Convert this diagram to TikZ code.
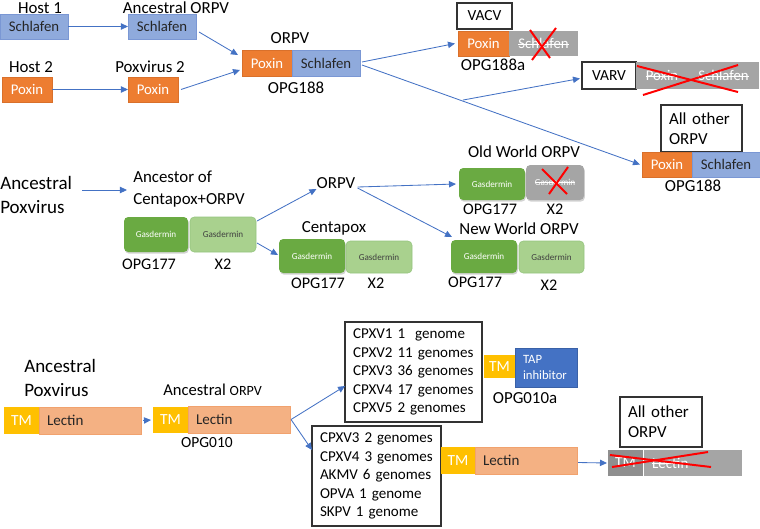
\documentclass[tikz,border=0pt]{standalone}
\usepackage{fontspec}
\setmainfont{Carlito}
\usepackage{tikz}
\usetikzlibrary{arrows.meta}
\usetikzlibrary{calc, shadows}
\definecolor{bleuS}{HTML}{8FAADC}
\definecolor{bleuB}{HTML}{7A97D4}
\definecolor{orangeP}{HTML}{ED7D31}
\definecolor{orangeB}{HTML}{D9702B}
\definecolor{grisB}{HTML}{A5A5A5}
\definecolor{grisF}{HTML}{8F8F8F}
\definecolor{vertF}{HTML}{6AAA42}
\definecolor{vertC}{HTML}{A9D18E}
\definecolor{vertCB}{HTML}{93C47D}
\definecolor{jauneTM}{HTML}{FFC000}
\definecolor{saumon}{HTML}{F4B183}
\definecolor{saumonB}{HTML}{F1A26E}
\definecolor{bleuTAP}{HTML}{4472C4}
\definecolor{bleuF}{HTML}{4472C4}
\newcommand{\barre}[1]{\setbox0\hbox{#1}\leavevmode\rlap{\rule[0.28em]{\wd0}{0.5pt}}\box0}

\tikzset{
  boite/.style={anchor=north west, inner sep=0pt, outer sep=0pt, font=\fontsize{10.5}{12}\selectfont},
  taille/.style 2 args={minimum width=#1*0.025cm, minimum height=#2*0.025cm},
  schl/.style={boite, fill=bleuS, draw=bleuB, text=black!85},
  pox/.style={boite, fill=orangeP, draw=orangeB, text=white},
  gris/.style={boite, fill=grisB, text=white},
  blanc/.style={boite, fill=white, draw=black!80, line width=0.8pt, font=\fontsize{11}{13}\selectfont},
  gfonce/.style={boite, rounded corners=3pt, fill=vertF, text=white, font=\fontsize{6.5}{8}\selectfont,
    drop shadow={shadow xshift=0.6pt, shadow yshift=-1.2pt, opacity=0.35}},
  gclair/.style={boite, rounded corners=3pt, fill=vertC, draw=vertCB, text=black!75, font=\fontsize{6.5}{8}\selectfont},
  ggris/.style={boite, rounded corners=3pt, fill=grisB, text=white, font=\fontsize{6.5}{8}\selectfont,
    drop shadow={shadow xshift=0.6pt, shadow yshift=-1.2pt, opacity=0.35}},
  tm/.style={boite, fill=jauneTM, text=white, font=\fontsize{11}{13}\selectfont},
  lect/.style={boite, fill=saumon, draw=saumonB, text=black!85, align=left, text width=2.15cm, inner xsep=0.2cm, font=\fontsize{10.7}{13}\selectfont},
  etiq/.style={inner sep=0pt, font=\fontsize{12}{14}\selectfont},
  autres/.style={blanc, align=left, inner xsep=0.2cm, font=\fontsize{12}{14.2}\selectfont},
  liste/.style={blanc, align=left, inner xsep=0.2cm, font=\fontsize{10.7}{13.1}\selectfont},
  fleche/.style={draw=bleuF, line width=0.6pt, -{Triangle[length=5pt,width=4.5pt]}},
  croix/.style={draw=red, line width=1.4pt},
}

\begin{document}
\begin{tikzpicture}[x=0.025cm, y=-0.025cm]
    \useasboundingbox (0,0) rectangle (760,528);

    % Hôtes et ancêtres
    \node[etiq] (lH1) at (40,8) {Host 1};
    \node[schl, taille={68}{25}] (h1S) at (0,14) {Schlafen};
    \node[etiq] (lAncO) at (176,8) {Ancestral ORPV};
    \node[schl, taille={68}{25}] (aS) at (128,14) {Schlafen};
    \node[etiq] (lH2) at (31,67) {Host 2};
    \node[pox, taille={50}{25}] (h2P) at (2,77) {Poxin};
    \node[etiq] (lPox2) at (150,67) {Poxvirus 2};
    \node[pox, taille={50}{25}] (pP) at (128,77) {Poxin};

    % ORPV fusion
    \node[etiq] (lOrpv) at (290,38) {ORPV};
    \node[pox, taille={50}{26}] (oP) at (242,50) {Poxin};
    \node[schl, taille={68}{26}] (oS) at (292,50) {Schlafen};
    \node[etiq] (lOpg) at (296,88) {OPG188};

    % VACV
    \node[blanc, taille={55}{26}] (vacv) at (457,3) {VACV};
    \node[pox, taille={51}{25}] (vP) at (458,31) {Poxin};
    \node[gris, taille={69}{25}] (vS) at (509,31) {\barre{Schlafen}};
    \node[etiq] (lOpgA) at (493,65) {OPG188a};
    \draw[croix] (530,30) -- (550,58);
    \draw[croix] (556,28) -- (532,60);

    % VARV
    \node[blanc, taille={54}{27}] (varv) at (582,62) {VARV};
    \node[gris, taille={52}{27}] (vrP) at (636,62) {\barre{Poxin}};
    \node[gris, taille={71}{27}] (vrS) at (688,62) {\barre{Schlafen}};
    \draw[croix] (637,66) -- (738,92);
    \draw[croix] (643,95) -- (738,65);

    % Tous les autres ORPV
    \node[autres, text width=1.625cm, minimum height=47*0.025cm] (ao) at (661,105) {All other\\ORPV};
    \node[pox, taille={50}{25}] (aoP) at (642,152) {Poxin};
    \node[schl, taille={68}{25}] (aoS) at (692,152) {Schlafen};
    \node[etiq] (lOpg2) at (693,186) {OPG188};

    % Flèches du haut
    \draw[fleche] (h1S) -- (aS);
    \draw[fleche] (h2P) -- (pP);
    \draw[fleche] ([shift={(3,5.5)}]aS.east) -- ([shift={(-4,-8)}]oP.west);
    \draw[fleche] ([shift={(3,0)}]pP.east) -- ([shift={(-2,7)}]oP.west);
    \draw[fleche] ([shift={(2,-1)}]oS.east) -- ([shift={(-3,0)}]vP.west);
    \draw[fleche] ([shift={(2,2)}]oS.east) -- ([shift={(-2,0)}]aoP.west);
    \coordinate (br) at ($(oS.east)!0.365!(aoP.west)$);
    \draw[fleche] (br) -- ([shift={(-2,3)}]varv.west);

    % Gasdermine
    \node[inner sep=0pt, anchor=west, align=left, font=\fontsize{13.5}{16.5}\selectfont] (ap1) at (0,195) {Ancestral\\Poxvirus};
    \node[inner sep=0pt, anchor=west, align=left, font=\fontsize{12}{15.6}\selectfont] (anc) at (133,189) {Ancestor of\\Centapox+ORPV};
    \node[gfonce, taille={64}{35}] (acD) at (124,217) {Gasdermin};
    \node[gclair, taille={66}{35}] (acL) at (190,217) {Gasdermin};
    \node[etiq, font=\fontsize{11.5}{13}\selectfont] (lG1) at (149,264) {OPG177};
    \node[etiq, font=\fontsize{11.5}{13}\selectfont] (lX1) at (223,264) {X2};

    \node[etiq] (lOrpv2) at (336,183) {ORPV};
    \node[etiq] (lCent) at (334,228) {Centapox};
    \node[gfonce, taille={66}{34}] (cD) at (279,239) {Gasdermin};
    \node[gclair, taille={66}{32}] (cL) at (346,241) {Gasdermin};
    \node[etiq, font=\fontsize{11.5}{13}\selectfont] (lG2) at (318,283) {OPG177};
    \node[etiq, font=\fontsize{11.5}{13}\selectfont] (lX2) at (376,283) {X2};

    % Ancien et Nouveau Monde
    \node[etiq] (lOld) at (524,152) {Old World ORPV};
    \node[gfonce, taille={66}{32}] (owD) at (459,168) {Gasdermin};
    \node[ggris, taille={58}{35}] (owG) at (526,165) {\barre{Gasdermin}};
    \draw[croix] (542,169) -- (567,194);
    \draw[croix] (568,167) -- (549,194);
    \node[etiq, font=\fontsize{11.5}{13}\selectfont] (lG3) at (490,209) {OPG177};
    \node[etiq, font=\fontsize{11.5}{13}\selectfont] (lX3) at (555,209) {X2};
    \node[etiq] (lNew) at (519,229) {New World ORPV};
    \node[gfonce, taille={66}{33}] (nwD) at (451,240) {Gasdermin};
    \node[gclair, taille={65}{32}] (nwL) at (519,241) {Gasdermin};
    \node[etiq, font=\fontsize{11.5}{13}\selectfont] (lG4) at (475,282) {OPG177};
    \node[etiq, font=\fontsize{11.5}{13}\selectfont] (lX4) at (549,285) {X2};

    % Flèches du milieu
    \draw[fleche] ([shift={(10,-5)}]ap1.east) -- ([shift={(-6,1)}]anc.west);
    \draw[fleche] ([shift={(1,-13.5)}]acL.east) -- ([shift={(0,6)}]lOrpv2.west);
    \draw[fleche] ([shift={(1,8.5)}]acL.east) -- ([shift={(-1,-1)}]cD.west);
    \draw[fleche] ([shift={(2,4)}]lOrpv2.east) -- ([shift={(-3,0)}]owD.west);
    \draw[fleche] ([shift={(2,5)}]lOrpv2.east) -- ([shift={(1,-3)}]nwD.north west);

    % Lectine
    \node[inner sep=0pt, anchor=west, align=left, font=\fontsize{13.5}{16.5}\selectfont] (ap2) at (24,378) {Ancestral\\Poxvirus};
    \node[tm, taille={35}{27}] (t1) at (4,407) {TM};
    \node[lect, minimum height=27*0.025cm] (l1) at (39,407) {Lectin};
    \node[inner sep=0pt, anchor=west, font=\fontsize{11.8}{14}\selectfont] (lAncO2) at (163,390) {Ancestral {\fontsize{10}{12}\selectfont ORPV}};
    \node[tm, taille={35}{26}] (t2) at (153,407) {TM};
    \node[lect, minimum height=27*0.025cm] (l2) at (188,406) {Lectin};
    \node[etiq, font=\fontsize{11}{13}\selectfont] (lG010) at (207,443) {OPG010};

    % Listes de génomes
    \node[liste, text width=3.025cm, minimum height=100*0.025cm] (b1) at (345,322)
      {CPXV1 1\ \ genome\\CPXV2 11 genomes\\CPXV3 36 genomes\\CPXV4 17 genomes\\CPXV5 2 genomes};
    \node[liste, text width=2.825cm, minimum height=100*0.025cm] (b2) at (312,426)
      {CPXV3 2 genomes\\CPXV4 3 genomes\\AKMV 6 genomes\\OPVA 1 genome\\SKPV 1 genome};

    \node[tm, taille={31}{23}] (t3) at (484,355) {TM};
    \node[boite, fill=bleuTAP, draw=bleuTAP!85!black, text=white, align=left, text width=1.15cm, inner xsep=0.2cm,
      minimum height=39*0.025cm, font=\fontsize{9}{12}\selectfont] (tap) at (515,348) {TAP\\inhibitor};
    \node[etiq] (lG010a) at (525,398) {OPG010a};

    \node[tm, taille={34}{27}] (t4) at (441,447) {TM};
    \node[lect, minimum height=27*0.025cm] (l3) at (475,447) {Lectin};

    % Tous les autres ORPV (lectine perdue)
    \node[autres, text width=1.65cm, minimum height=50*0.025cm] (ao2) at (620,397) {All other\\ORPV};
    \node[gris, fill=grisF, taille={35}{26}, font=\fontsize{11}{13}\selectfont] (gtm) at (608,450) {TM};
    \node[gris, align=left, text width=2.05cm, inner xsep=0.2cm, minimum height=26*0.025cm, font=\fontsize{10.7}{13}\selectfont] (gl) at (644,450) {\barre{Lectin}};
    \draw[croix] (610,455) -- (711,467);
    \draw[croix] (612,467) -- (708,452);

    % Flèches du bas
    \draw[fleche] ([shift={(2,0)}]l1.east) -- ([shift={(-2,0)}]t2.west);
    \draw[fleche] ([shift={(1,0)}]l2.east) -- ([shift={(0,14)}]b1.west);
    \draw[fleche] ([shift={(1,0)}]l2.east) -- ([shift={(0,24)}]b2.north west);
    \draw[fleche] ([shift={(1,2)}]l3.east) -- ([shift={(-1,0)}]gtm.west);
\end{tikzpicture}
\end{document}
